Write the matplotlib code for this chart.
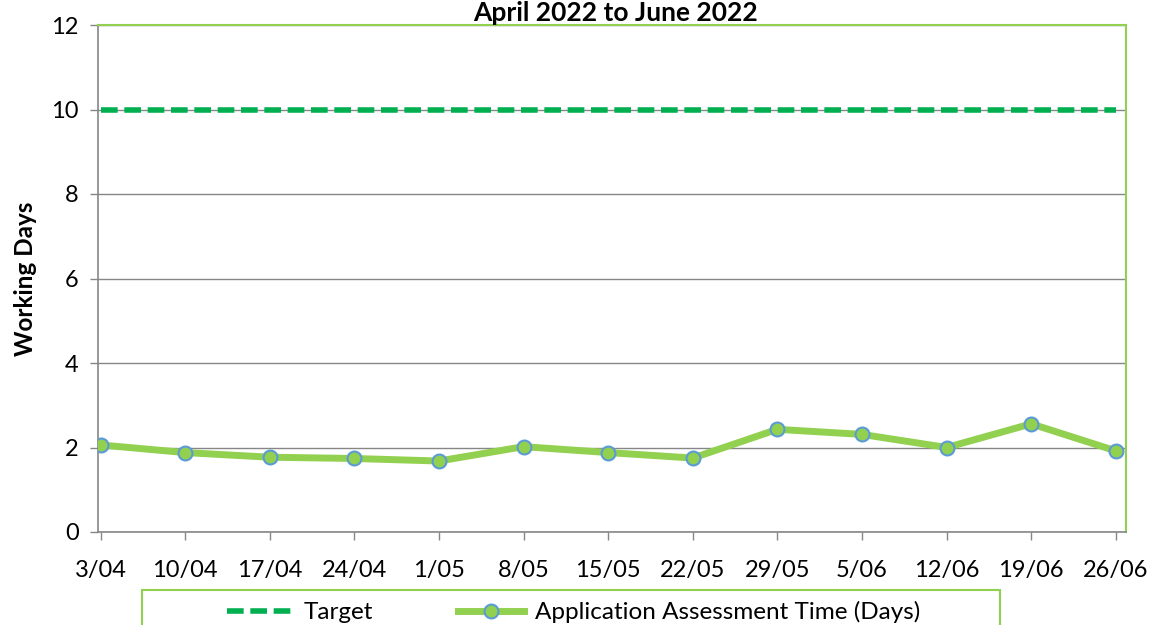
import matplotlib.pyplot as plt
from matplotlib.patches import Rectangle

weeks = ["3/04", "10/04", "17/04", "24/04", "1/05", "8/05", "15/05",
         "22/05", "29/05", "5/06", "12/06", "19/06", "26/06"]
assessment_days = [2.06, 1.88, 1.77, 1.74, 1.68, 2.02, 1.88,
                   1.75, 2.43, 2.31, 2.00, 2.56, 1.92]
target_days = [10] * len(weeks)

plt.rcParams['font.family'] = ['Lato', 'DejaVu Sans']

fig = plt.figure(figsize=(11.53, 6.25), dpi=100)
ax = fig.add_axes([98 / 1153, 93 / 625, 1028 / 1153, 507 / 625])

x = list(range(len(weeks)))
ax.plot(x, target_days, color="#00B050", lw=4, ls=(0, (3, 1.2)), label="Target", zorder=3)
ax.plot(x, assessment_days, color="#92D050", lw=5, marker="o", ms=10,
        markerfacecolor="#92D050", markeredgecolor="#5B9BD5", markeredgewidth=1.5,
        label="Application Assessment Time (Days)", zorder=4)

ax.set_ylim(0, 12)
ax.set_xlim(-0.03, 12.12)
ax.set_yticks(range(0, 13, 2))
ax.set_xticks(x)
ax.set_xticklabels(weeks)
ax.tick_params(axis="both", labelsize=17, color="#868686", length=6, width=1)
ax.tick_params(axis="x", pad=14)
ax.tick_params(axis="y", pad=8)
ax.yaxis.grid(True, color="#868686", lw=1)
ax.set_axisbelow(True)

for side in ["top", "right"]:
    ax.spines[side].set_color("#92D050")
    ax.spines[side].set_linewidth(1.5)
for side in ["left", "bottom"]:
    ax.spines[side].set_color("#868686")
    ax.spines[side].set_linewidth(1.2)

ax.set_ylabel("Working Days", fontsize=17.5, fontweight="bold", labelpad=10)
fig.text(0.534, 0.999, "April 2022 to June 2022", ha="center", va="top",
         fontsize=19, fontweight="bold")

# legend box (cut off at the bottom edge like the original)
fig.patches.append(Rectangle((142 / 1153, -0.1), 858 / 1153, 0.1 + 35 / 625,
                             transform=fig.transFigure, fill=False,
                             edgecolor="#92D050", lw=1.5))
leg = fig.legend(loc="center left", bbox_to_anchor=(227 / 1153, 1 - 612 / 625),
                 ncol=2, fontsize=17.5, frameon=False, borderpad=0,
                 borderaxespad=0, handlelength=2.7, handletextpad=0.45,
                 columnspacing=3.5)

fig.savefig("out.png", dpi=100)
